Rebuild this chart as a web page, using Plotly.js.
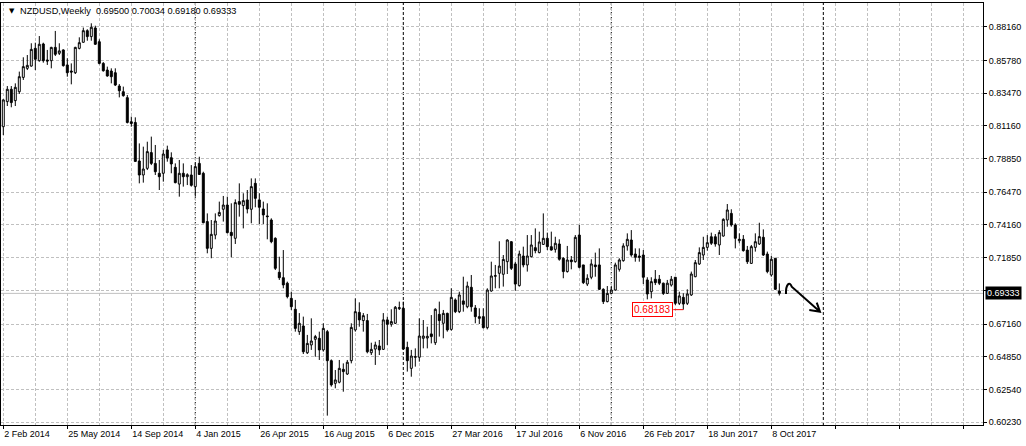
<!DOCTYPE html>
<html>
<head>
<meta charset="utf-8">
<script src="https://cdn.plot.ly/plotly-3.0.1.min.js"></script>
<style>html,body{margin:0;padding:0;background:#fff;}#chart{width:1026px;height:446px;}</style>
</head>
<body>
<div id="chart"></div>
<script>
// Weekly NZDUSD bars, first bar week of 2 Feb 2014
const firstWeek = '2014-02-02';
const open = [
.8110,.8287,.8374,.8294,.8357,.8458,.8522,.8538,.8663,.8576,
.8694,.8581,.8576,.8670,.8628,.8652,.8546,.8503,.8491,.8663,
.8706,.8788,.8746,.8807,.8710,.8557,.8510,.8503,.8491,.8397,
.8357,.8315,.8145,.8140,.7868,.7769,.7816,.7927,.7851,.7781,
.7781,.7946,.7891,.7823,.7705,.7781,.7757,.7769,.7687,.7851,
.7781,.7440,.7251,.7345,.7482,.7527,.7557,.7364,.7322,.7581,
.7553,.7593,.7527,.7710,.7593,.7529,.7480,.7451,.7322,.7082,
.7044,.7005,.6898,.6821,.6663,.6703,.6514,.6569,.6609,.6616,
.6534,.6663,.6458,.6298,.6306,.6397,.6364,.6458,.6675,.6799,
.6741,.6741,.6514,.6540,.6562,.6538,.6746,.6715,.6722,.6825,
.6828,.6552,.6404,.6482,.6482,.6616,.6618,.6647,.6585,.6785,
.6722,.6792,.6679,.6887,.6804,.6880,.6839,.6976,.6830,.6769,
.6769,.6691,.6950,.7054,.7075,.7068,.7157,.7298,.7141,.6988,
.7197,.7134,.7192,.7256,.7221,.7279,.7322,.7263,.7244,.7282,
.7181,.7087,.7169,.7157,.7345,.7134,.6999,.7047,.7134,.7134,
.6962,.6875,.6933,.6957,.7103,.7164,.7268,.7310,.7211,.7197,
.7204,.7028,.6945,.7033,.7033,.7005,.6933,.6992,.7047,.6863,
.6905,.6863,.6922,.7051,.7141,.7204,.7258,.7333,.7333,.7275,
.7338,.7451,.7498,.7416,.7305,.7315,.7239,.7145,.7258,.7282,
.7329,.7211,.7063,.7181,.69500];
const high = [
.8303,.8397,.8397,.8416,.8499,.8600,.8616,.8699,.8703,.8750,
.8703,.8652,.8674,.8786,.8699,.8656,.8593,.8557,.8674,.8741,
.8810,.8798,.8840,.8823,.8727,.8566,.8534,.8522,.8522,.8411,
.8393,.8334,.8181,.8176,.7992,.7969,.8004,.8040,.7981,.7875,
.7946,.7976,.7929,.7851,.7875,.7851,.7781,.7839,.7856,.7898,
.7792,.7498,.7451,.7498,.7581,.7621,.7616,.7569,.7597,.7710,
.7640,.7663,.7745,.7745,.7640,.7581,.7569,.7463,.7329,.7192,
.7239,.7016,.6945,.6887,.6794,.6769,.6640,.6757,.6640,.6663,
.6722,.6675,.6467,.6392,.6463,.6439,.6463,.6722,.6898,.6870,
.6794,.6788,.6585,.6592,.6604,.6794,.6769,.6821,.6844,.6875,
.6875,.6592,.6534,.6545,.6757,.6745,.6698,.6780,.6828,.6875,
.6816,.6797,.6969,.6898,.6945,.7051,.7016,.7063,.6851,.6828,
.6828,.6969,.7157,.7134,.7301,.7204,.7315,.7301,.7157,.7235,
.7263,.7345,.7345,.7392,.7369,.7498,.7362,.7369,.7333,.7315,
.7188,.7268,.7197,.7345,.7416,.7134,.7068,.7174,.7221,.7251,
.6969,.6985,.6985,.7150,.7181,.7287,.7357,.7380,.7251,.7251,
.7239,.7047,.7047,.7098,.7063,.7009,.7028,.7056,.7047,.6945,
.6934,.6962,.7087,.7169,.7258,.7333,.7345,.7362,.7352,.7380,
.7463,.7564,.7527,.7428,.7357,.7345,.7268,.7275,.7357,.7432,
.7385,.7228,.7197,.7181,.70034];
const low = [
.8051,.8256,.8247,.8256,.8341,.8440,.8510,.8534,.8510,.8569,
.8562,.8546,.8522,.8609,.8616,.8534,.8463,.8409,.8482,.8656,
.8703,.8717,.8717,.8687,.8550,.8499,.8463,.8416,.8397,.8317,
.8322,.8133,.8110,.7863,.7710,.7715,.7804,.7839,.7769,.7663,
.7722,.7863,.7781,.7710,.7616,.7687,.7698,.7687,.7616,.7769,
.7428,.7216,.7181,.7315,.7475,.7440,.7357,.7188,.7282,.7475,
.7392,.7498,.7428,.7541,.7423,.7423,.7315,.7287,.7098,.7028,
.6969,.6898,.6816,.6663,.6640,.6505,.6505,.6534,.6486,.6463,
.6522,.6070,.6275,.6263,.6298,.6239,.6357,.6439,.6663,.6698,
.6663,.6510,.6498,.6428,.6498,.6534,.6569,.6698,.6717,.6816,
.6534,.6381,.6345,.6416,.6451,.6545,.6545,.6580,.6569,.6628,
.6616,.6663,.6670,.6794,.6794,.6804,.6828,.6804,.6722,.6717,
.6686,.6679,.6945,.6969,.6969,.6981,.7070,.7098,.6952,.6981,
.7117,.7087,.7188,.7216,.7216,.7275,.7239,.7235,.7221,.7164,
.7040,.7080,.7103,.7150,.7110,.6999,.6985,.7033,.7051,.6957,
.6858,.6870,.6929,.6952,.7087,.7157,.7235,.7192,.7157,.7157,
.6999,.6891,.6898,.6992,.6992,.6922,.6929,.6981,.6851,.6851,
.68183,.6851,.6915,.7047,.7134,.7169,.7235,.7275,.7263,.7204,
.7334,.7404,.7404,.7251,.7287,.7228,.7141,.7141,.7228,.7275,
.7197,.7075,.7051,.6957,.69180];
const close = [
.8299,.8374,.8280,.8388,.8463,.8534,.8543,.8656,.8586,.8692,
.8576,.8574,.8670,.8621,.8645,.8541,.8491,.8496,.8670,.8703,
.8788,.8746,.8812,.8692,.8557,.8505,.8468,.8463,.8404,.8364,
.8329,.8140,.8133,.7865,.7769,.7811,.7934,.7851,.7792,.7757,
.7917,.7889,.7847,.7715,.7781,.7757,.7771,.7696,.7828,.7773,
.7432,.7251,.7350,.7444,.7505,.7557,.7362,.7341,.7574,.7562,
.7588,.7529,.7687,.7604,.7541,.7487,.7475,.7298,.7110,.7044,
.6993,.6910,.6839,.6686,.6722,.6521,.6580,.6597,.6628,.6534,
.6686,.6458,.6287,.6322,.6404,.6381,.6447,.6693,.6804,.6746,
.6776,.6521,.6538,.6569,.6534,.6746,.6715,.6734,.6835,.6832,
.6540,.6458,.6491,.6486,.6632,.6632,.6630,.6628,.6821,.6741,
.6792,.6675,.6905,.6804,.6922,.6856,.6985,.6839,.6769,.6757,
.6691,.6957,.7056,.7058,.7126,.7173,.7310,.7110,.6999,.7211,
.7134,.7197,.7275,.7235,.7296,.7322,.7263,.7239,.7287,.7174,
.7087,.7169,.7157,.7329,.7117,.7009,.7040,.7141,.7122,.6962,
.6875,.6933,.6957,.7134,.7169,.7268,.7315,.7204,.7188,.7188,
.7047,.6929,.7016,.7009,.7005,.6933,.7005,.7033,.6863,.6915,
.6858,.6929,.7070,.7150,.7221,.7258,.7291,.7287,.7282,.7362,
.7456,.7522,.7416,.7322,.7315,.7235,.7157,.7263,.7298,.7334,
.7204,.7087,.7174,.6962,.69333];

const xTickLabels = ['2 Feb 2014','25 May 2014','14 Sep 2014','4 Jan 2015','26 Apr 2015',
  '16 Aug 2015','6 Dec 2015','27 Mar 2016','17 Jul 2016','6 Nov 2016','26 Feb 2017',
  '18 Jun 2017','8 Oct 2017'];
// grid levels of the price scale; the 0.69540 label sits under the current-price box
const yTickLabels = ['0.88160','0.85780','0.83470','0.81160','0.78850','0.76470','0.74160',
  '0.71850','0.69540','0.67160','0.64850','0.62540','0.60230'];
const yHiddenLabel = '0.69540';
const symbolTitle = 'NZDUSD,Weekly';
const markedLowIndex = 170;

// ---------- build ----------
const WEEK = 7 * 86400000;
const t0 = Date.parse(firstWeek + 'T00:00:00Z');
function fmt(ms) { return new Date(ms).toISOString().slice(0, 19).replace('T', ' '); }
const dates = open.map((_, i) => fmt(t0 + i * WEEK));
const axisWeeks = 246;
const axisDates = [];
for (let i = 0; i < axisWeeks; i++) axisDates.push(t0 + i * WEEK);

const majorVals = [], majorText = [], minorVals = [];
for (let i = 0; i < axisWeeks; i += 8) {
  if (i % 16 === 0) { majorVals.push(fmt(axisDates[i])); majorText.push(xTickLabels[i / 16] || ''); }
  else minorVals.push(fmt(axisDates[i]));
}

const shapes = [];
// year separators
for (let i = 1; i < axisWeeks; i++) {
  if (new Date(axisDates[i]).getUTCFullYear() !== new Date(axisDates[i - 1]).getUTCFullYear()) {
    shapes.push({type: 'line', xref: 'x', yref: 'paper', x0: fmt(axisDates[i]), x1: fmt(axisDates[i]), y0: 0, y1: 1,
      line: {color: '#000', width: 1, dash: '3px,2px'}, layer: 'below'});
  }
}
const last = close.length - 1;
const lastClose = close[last];
// current price line
shapes.push({type: 'line', xref: 'paper', yref: 'y', x0: 0, x1: 1, y0: lastClose, y1: lastClose,
  line: {color: '#c0c0c0', width: 1}, layer: 'below'});
// red connector to marked low
const lowVal = low[markedLowIndex];
shapes.push({type: 'line', xref: 'x', yref: 'y', x0: fmt(t0 + (markedLowIndex - 2.5) * WEEK), x1: dates[markedLowIndex],
  y0: lowVal, y1: lowVal, line: {color: '#ff0000', width: 1}});
// hand-drawn arrow (paper coords)
shapes.push({type: 'path', xref: 'paper', yref: 'paper',
  path: 'M 0.7994 0.3104 C 0.7990 0.3330, 0.8030 0.3420, 0.8052 0.3277 L 0.8340 0.2685 M 0.8307 0.2898 L 0.8340 0.2685 L 0.8231 0.2725',
  line: {color: '#000', width: 2}});

const f5 = v => v.toFixed(5);
const annotations = [
  {xref: 'paper', yref: 'paper', x: 0.0058, y: 0.981, xanchor: 'left', yanchor: 'middle', showarrow: false,
   text: '▼', font: {family: 'DejaVu Sans', size: 7, color: '#000'}},
  {xref: 'paper', yref: 'paper', x: 0.0173, y: 0.981, xanchor: 'left', yanchor: 'middle', showarrow: false,
   text: symbolTitle + '\u00a0 ' + [open[last], high[last], low[last], close[last]].map(f5).join(' '),
   font: {family: 'Liberation Sans, Arial, sans-serif', size: 9.2, color: '#000'}},
  {xref: 'paper', yref: 'y', x: 1, y: lastClose, xanchor: 'left', yanchor: 'middle', xshift: 2, showarrow: false,
   text: f5(lastClose), bgcolor: '#000', borderpad: 1,
   font: {family: 'Liberation Sans, Arial, sans-serif', size: 9, color: '#fff'}},
  {xref: 'x', yref: 'y', x: dates[markedLowIndex], y: lowVal, xanchor: 'right', yanchor: 'middle', xshift: -10,
   showarrow: false, text: f5(lowVal), bgcolor: '#fff', bordercolor: '#ff0000', borderwidth: 1, borderpad: 1,
   font: {family: 'Liberation Sans, Arial, sans-serif', size: 10, color: '#ff0000'}}
];

const trace = {
  type: 'candlestick', x: dates, open: open, high: high, low: low, close: close,
  increasing: {line: {color: '#000', width: 1}, fillcolor: '#ffffff'},
  decreasing: {line: {color: '#000', width: 1}, fillcolor: '#000000'},
  whiskerwidth: 0, hoverinfo: 'skip', showlegend: false
};

const gridColor = '#c0c0c0';
const layout = {
  width: 1026, height: 446,
  margin: {l: 1, r: 43, t: 3, b: 21, pad: 0},
  paper_bgcolor: '#fff', plot_bgcolor: '#fff',
  showlegend: false,
  font: {family: 'Liberation Sans, Arial, sans-serif', size: 9, color: '#000'},
  xaxis: {
    type: 'date', range: [fmt(t0 - 0.575 * WEEK), fmt(t0 + 244.92 * WEEK)],
    rangeslider: {visible: false},
    tickmode: 'array', tickvals: majorVals, ticktext: majorText,
    ticks: 'outside', ticklen: 3, tickcolor: '#000', ticklabelposition: 'outside right',
    tickfont: {family: 'Liberation Sans, Arial, sans-serif', size: 9, color: '#000'},
    showgrid: true, gridcolor: gridColor, gridwidth: 1, griddash: '3px,2px',
    minor: {tickmode: 'array', tickvals: minorVals, showgrid: true, gridcolor: gridColor, griddash: '3px,2px', ticks: ''},
    showline: true, linecolor: '#000', linewidth: 1, mirror: true, zeroline: false, fixedrange: true
  },
  yaxis: {
    side: 'right', range: [0.60039, 0.89833],
    tickmode: 'array', tickvals: yTickLabels.map(Number),
    ticktext: yTickLabels.map(s => s === yHiddenLabel ? '' : s),
    ticks: 'outside', ticklen: 3, tickcolor: '#000',
    tickfont: {family: 'Liberation Sans, Arial, sans-serif', size: 9, color: '#000'},
    showgrid: true, gridcolor: gridColor, gridwidth: 1, griddash: '3px,2px',
    showline: true, linecolor: '#000', linewidth: 1, mirror: true, zeroline: false, fixedrange: true
  },
  shapes: shapes,
  annotations: annotations
};

Plotly.newPlot('chart', [trace], layout, {displayModeBar: false, staticPlot: true});
</script>
</body>
</html>
